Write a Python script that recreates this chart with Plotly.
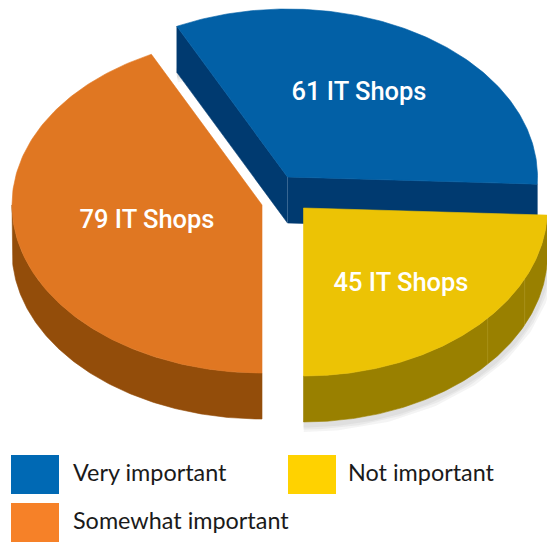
import numpy as np
import plotly.graph_objects as go

categories = ["Very important", "Not important", "Somewhat important"]
shops = [61, 45, 79]
labels = ["61 IT Shops", "45 IT Shops", "79 IT Shops"]
top_colors = ["#0260a6", "#ecc305", "#e07722"]
side_colors = ["#003a70", "#998000", "#934d0a"]
legend_colors = ["#0069b4", "#ffd200", "#f68128"]

W, H = 547, 543
RY, DEPTH = 168, 46
centers = [(287.5, 177), (303.5, 208), (262, 205)]
radii_x = [250, 244, 250]
label_pos = [(359, 94), (401, 285), (147, 222)]
legend_boxes = [(11, 455), (288, 455), (11, 503)]
BOX_W, BOX_H = 48, 39
legend_text_x = [73, 348, 73]
seam_angles = [115, 131]

# slice angles, clockwise from 12 o'clock, derived from the values
total = sum(shops)
sweeps = [360 * v / total for v in shops]
yellow_end = 180.0
yellow_start = yellow_end - sweeps[1]
blue_start = yellow_start - sweeps[0]
orange_start = yellow_end
orange_end = orange_start + sweeps[2]
spans = [(blue_start, yellow_start), (yellow_start, yellow_end), (orange_start, orange_end)]


def pt(c, rx, deg, dz=0.0):
    a = np.radians(deg)
    return c[0] + rx * np.sin(a), c[1] - RY * np.cos(a) + dz


def arc(c, rx, a0, a1, dz=0.0, n=160):
    return pt(c, rx, np.linspace(a0, a1, n), dz)


def closed(*parts):
    xs = np.concatenate([np.atleast_1d(p[0]) for p in parts])
    ys = np.concatenate([np.atleast_1d(p[1]) for p in parts])
    return np.append(xs, xs[0]), np.append(ys, ys[0])


def poly(x, y, color, line=None):
    return go.Scatter(x=x, y=y, mode="lines", fill="toself", fillcolor=color,
                      line=dict(color=line or color, width=0.6), hoverinfo="skip", showlegend=False)


fig = go.Figure()

# soft shadows
b, y_, o = 0, 1, 2
shadow_paths = [
    arc(centers[y_], radii_x[y_], 95, 180, DEPTH + 3),
    closed(pt(centers[b], radii_x[b], spans[b][0], DEPTH + 3), pt(centers[b], 0, 0, DEPTH + 3)),
    closed(pt(centers[b], 0, 0, DEPTH + 3), pt(centers[b], radii_x[b], spans[b][1], DEPTH + 3)),
]
for w in (14, 9, 5):
    for sx, sy in shadow_paths:
        fig.add_trace(go.Scatter(x=sx, y=sy, mode="lines", line=dict(color="rgba(60,60,60,0.06)", width=w),
                                 hoverinfo="skip", showlegend=False))

# blue slice: two cut faces, then top
c, rx = centers[b], radii_x[b]
a0, a1 = spans[b]
apex = (np.array([c[0]]), np.array([c[1]]))
apex_low = (np.array([c[0]]), np.array([c[1] + DEPTH]))
for a in (a0, a1):
    e = pt(c, rx, a)
    el = pt(c, rx, a, DEPTH)
    fx, fy = closed(apex, (np.array([e[0]]), np.array([e[1]])), (np.array([el[0]]), np.array([el[1]])), apex_low)
    fig.add_trace(poly(fx, fy, side_colors[b]))

# yellow and orange outer walls
for i, (a, z) in [(y_, spans[y_]), (o, (180.0, 270.0))]:
    c2, r2 = centers[i], radii_x[i]
    top = arc(c2, r2, a, z)
    low = arc(c2, r2, z, a, DEPTH)
    wx, wy = closed(top, low)
    fig.add_trace(poly(wx, wy, side_colors[i]))

# top faces
for i in (b, y_, o):
    c2, r2 = centers[i], radii_x[i]
    ax, ay = arc(c2, r2, *spans[i])
    tx, ty = closed((np.array([c2[0]]), np.array([c2[1]])), (ax, ay))
    fig.add_trace(poly(tx, ty, top_colors[i]))

# faint seams
for s in seam_angles:
    p0, p1 = pt(centers[y_], radii_x[y_], s), pt(centers[y_], radii_x[y_], s, DEPTH)
    fig.add_trace(go.Scatter(x=[p0[0], p1[0]], y=[p0[1], p1[1]], mode="lines",
                             line=dict(color="rgba(255,240,170,0.14)", width=1), hoverinfo="skip", showlegend=False))
fig.add_trace(go.Scatter(x=[c[0], c[0]], y=[c[1], c[1] + DEPTH], mode="lines",
                         line=dict(color="rgba(190,210,230,0.25)", width=1), hoverinfo="skip", showlegend=False))

# value labels
fig.add_trace(go.Scatter(x=[p[0] for p in label_pos], y=[p[1] for p in label_pos], text=labels, mode="text",
                         textposition="middle center",
                         textfont=dict(family="Roboto", size=25.5, color="white", weight=500),
                         hoverinfo="skip", showlegend=False))

# legend
for (lx, ly), col, name, tx in zip(legend_boxes, legend_colors, categories, legend_text_x):
    fig.add_trace(go.Scatter(x=[lx, lx + BOX_W, lx + BOX_W, lx, lx], y=[ly, ly, ly + BOX_H, ly + BOX_H, ly],
                             mode="lines", fill="toself", fillcolor=col, line=dict(color=col, width=0),
                             hoverinfo="skip", showlegend=False))
    fig.add_trace(go.Scatter(x=[tx], y=[ly + BOX_H / 2 + 1], text=[name], mode="text", textposition="middle right",
                             textfont=dict(family="Lato", size=23.4, color="#1a1a1a"),
                             hoverinfo="skip", showlegend=False))

fig.update_layout(width=W, height=H, margin=dict(l=0, r=0, t=0, b=0), paper_bgcolor="white", plot_bgcolor="white",
                  xaxis=dict(range=[0, W], visible=False, fixedrange=True),
                  yaxis=dict(range=[H, 0], visible=False, fixedrange=True), showlegend=False)
fig.write_html("out.html", post_script="document.body.style.margin='0';", config={"displayModeBar": False})
